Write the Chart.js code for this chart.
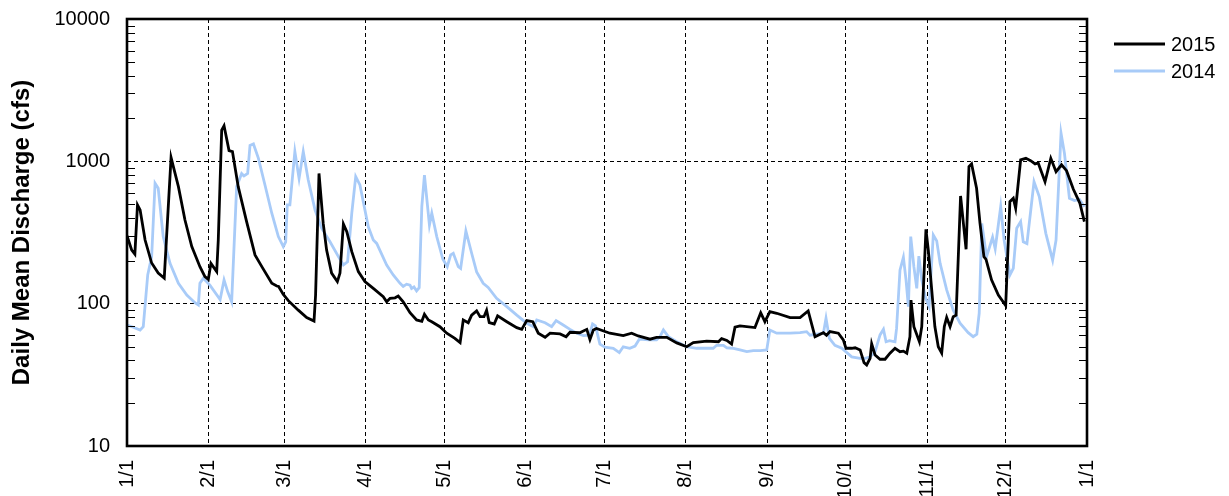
<!DOCTYPE html>
<html>
<head>
<meta charset="utf-8">
<script src="https://cdn.jsdelivr.net/npm/chart.js@4/dist/chart.umd.min.js"></script>
<style>
  html, body { margin: 0; padding: 0; background: #fff; }
  #wrap { width: 1229px; height: 496px; position: relative; }
</style>
</head>
<body>
<div id="wrap"><canvas id="c" width="1229" height="496"></canvas></div>
<script>
// Month boundaries (day of year on a 366-day axis) and their labels
const monthDays = [0, 31, 60, 91, 121, 152, 182, 213, 244, 274, 305, 335, 366];
const monthLabels = ['1/1', '2/1', '3/1', '4/1', '5/1', '6/1', '7/1', '8/1', '9/1', '10/1', '11/1', '12/1', '1/1'];
const yDecades = [10, 100, 1000, 10000];

// 2015 daily mean discharge (cfs)
const days2015 = [0,1.8,3,4,5,6.9,9.4,11.9,14.2,16.8,19.6,22.1,24.7,27.8,29.7,31,32,34.2,34.8,36.1,37,38.9,40.2,42.4,45.6,48.8,51.4,55.2,57.1,57.8,59.6,61.5,65.3,68.5,71.3,71.9,73.2,74.8,76.1,78,80.2,81.2,82.5,83.8,85.7,88.2,90.7,93.9,97.7,99,100.3,102.2,103.4,105.3,107.9,110.4,112.4,113.4,114.9,116.2,119.3,121.9,125,127,128.2,130.1,131.4,133.3,134.6,136.1,137.1,138.1,140,141.3,144.8,148.6,150.5,152.4,154.7,156.8,159.4,161.3,165.1,167.4,168.9,172.6,175.3,176.5,177.8,179,184.1,189.2,192.4,194.9,199.4,201.9,205.8,209.6,213.4,215.9,221,225.5,226.7,228.7,230.5,231.8,233.7,239.4,241.6,243.2,245.1,247.7,252.8,256.6,259.7,262.3,265.5,266.7,268,271.2,273.1,274.1,276.3,277.6,279.5,281,282,283.3,283.9,285.2,287.1,289,290.9,292.8,294.7,296,297.3,298.5,298.9,300,302.1,303,304.6,305.5,306.8,308,309.3,310.6,311.6,312.5,313.8,315,316.1,317.8,319.9,321,322,323.9,325.2,326.7,327.5,329.6,332.2,335,336.6,337.9,338.8,340.7,342.7,344.5,346.2,347.4,350,352.2,354.2,356.3,358.2,360.8,363.3,365];
const flow2015 = [300,238,223,494,455,280,193,164,151,1063,664,387,252,182,155,148,192,168,280,1655,1776,1190,1170,664,377,220,182,139,133,132,116,105,90,80,75.5,115,822,368,238,164,143,164,363,320,232,168,143,128,112,103,109,110,113,103,86.4,76.8,75.2,84.2,76.8,74.7,68.9,62,57.1,53.2,76.8,73.5,83,89,81,81,90,73.5,72,82,74.7,67.8,66,76,74.7,62,58.1,62,61.3,58.6,63,62.5,66,56,65.3,67,62,59.6,62,59.3,56.3,58,58,53,49.8,53.2,54.6,54,56.8,55.2,52,68.3,69.8,67.9,86.4,74.7,87.8,85.6,79.7,79.7,88.8,58.6,62.6,60,63.6,62,55.6,48.6,48.6,49,47.3,38.5,37.1,41.3,52.3,43.6,40.7,40.7,44.9,48.6,46,46.4,44.9,58.6,106,68.9,54,68.9,333,238,125,69,49.8,45,69,80,69,81,83,571,241,918,959,647,368,214,205,147,115,97,521,550,468,1023,1050,1010,959,975,719,1050,846,946,860,636,507,377];

// 2014 daily mean discharge (cfs)
const days2014 = [0,2.4,5,6.2,7.9,9.4,10.7,11.9,13.8,16.4,19.6,22.8,25.9,27.2,27.8,29.1,31.6,35.5,37,38.4,39.9,41.8,43.7,44.6,46,46.9,48.2,50.1,52.6,55.2,57.7,59.6,60.5,61.1,62.1,64,65.6,67.2,69.1,71.7,74.2,77.4,80.6,82.5,84.1,85.7,87.2,88.8,92,93.9,95.2,99,101.5,104.1,105.3,106.6,107.9,108.5,109.4,110.4,111.4,112.4,113.4,115.3,116.2,118.1,120.4,122.1,123.4,124.4,126.3,127.2,129.2,131.4,133.3,135.8,137.7,140.9,144.8,148.6,152.4,154.9,156.2,159.4,161.9,163.6,166.3,168.9,171.5,174,176.3,177.5,178.6,180.3,182.2,185.4,187.7,189.2,191.7,193.7,195.3,198.8,201.9,203.2,204.5,206.4,209.6,213.4,217.2,220.4,223.5,224.8,227.4,228.7,231.2,233.7,236.3,238.8,241.4,243.9,245.1,247.7,252.8,256.6,259.1,260.4,265.5,266.5,267.8,269.9,272.5,276.3,279.5,281.4,283.3,285.2,287.1,288.4,289.4,290.7,292.8,293.4,294.7,296,297,297.9,298.8,300,301.1,301.9,303,304.5,305.8,307.4,308.7,310,312.5,315,317.6,320.7,322.6,324,324.9,325.9,327.7,330,331,333.1,334.4,336.6,337.9,339.2,340.7,341.7,343.1,345.8,347.8,350.3,352.9,354.2,356.1,357.4,359.3,361.2,363.1,365];
const flow2014 = [70.8,68.3,65.3,68.9,159,214,702,647,296,192,139,115,101.6,98,139,151,135,107,147,121,103,664,822,790,822,1294,1325,1050,682,432,296,252,272,494,494,1170,758,1170,740,455,339,272,214,187,197,432,781,682,347,280,265,187,159,139,132,137,135,128,131,123,129.5,480,800,357,432,296,206,182,220,226,182,177,324,226,167,139,130,109,95.3,83,72.9,68.9,76.8,73.5,68.9,76,70.8,66,62,59.6,60,72,69.8,52,49.5,48.6,45.3,49.8,48.6,50.4,56.3,55.6,55.6,58.6,65.3,58.6,54,49.8,48.6,48.6,48.6,51,51,49,48.6,47.3,46,46.8,46.8,47.3,65.3,62,62,62.5,63.6,60,62,79,57,51,48.6,42.3,41.3,41.3,42.3,46,60.3,66,54,55,54,67,172,212,147,95.3,296,182,128,216,147,109,95.3,304,276,192,125,90,73,62.6,58.6,61,85.6,366,214,293,243,480,280,159,177,339,377,272,264,719,565,312,202,280,1577,1140,550,530,540,480];

const toPoints = (xs, ys) => xs.map((d, i) => ({ x: d, y: ys[i] }));

const FONT = "'Liberation Sans', Arial, sans-serif";

// Plot frame, inward minor ticks on both vertical axes, and the series key
const framePlugin = {
  id: 'frame',
  afterDraw(chart) {
    const { ctx, chartArea: a } = chart;
    const y = chart.scales.y;
    ctx.save();
    ctx.strokeStyle = '#000';
    ctx.lineWidth = 1.2;
    ctx.beginPath();
    y.ticks.forEach(t => {
      if (yDecades.includes(t.value)) return;
      const py = Math.round(y.getPixelForValue(t.value)) + 0.5;
      ctx.moveTo(a.left, py); ctx.lineTo(a.left + 8, py);
      ctx.moveTo(a.right, py); ctx.lineTo(a.right - 8, py);
    });
    ctx.stroke();
    ctx.lineWidth = 2.6;
    ctx.strokeRect(a.left, a.top, a.right - a.left, a.bottom - a.top);

    // key
    ctx.font = '20px ' + FONT;
    ctx.textBaseline = 'middle';
    ctx.textAlign = 'left';
    chart.data.datasets.forEach((ds, i) => {
      const ly = 44 + 27 * i;
      ctx.strokeStyle = ds.borderColor;
      ctx.lineWidth = 3;
      ctx.beginPath();
      ctx.moveTo(1114, ly); ctx.lineTo(1165, ly);
      ctx.stroke();
      ctx.fillStyle = '#000';
      ctx.fillText(ds.label, 1171, ly + 1);
    });
    ctx.restore();
  }
};

new Chart(document.getElementById('c'), {
  type: 'line',
  data: {
    datasets: [
      { label: '2015', data: toPoints(days2015, flow2015), borderColor: '#000000', borderWidth: 2.8, pointRadius: 0, tension: 0 },
      { label: '2014', data: toPoints(days2014, flow2014), borderColor: '#a8cbf8', borderWidth: 2.8, pointRadius: 0, tension: 0 }
    ]
  },
  options: {
    responsive: false,
    animation: false,
    events: [],
    layout: { padding: { top: 19, right: 142, bottom: 0, left: 0 } },
    plugins: { legend: { display: false }, tooltip: { enabled: false } },
    scales: {
      x: {
        type: 'linear',
        min: 0,
        max: 366,
        afterBuildTicks: s => { s.ticks = monthDays.map(v => ({ value: v })); },
        afterFit: s => { s.height = 50; },
        grid: {
          drawTicks: false,
          lineWidth: 1,
          color: c => (c.tick && (c.tick.value === 0 || c.tick.value === 366)) ? 'rgba(0,0,0,0)' : '#000'
        },
        border: { display: false, dash: [4, 3] },
        ticks: {
          autoSkip: false,
          minRotation: 90,
          maxRotation: 90,
          padding: 14,
          color: '#000',
          font: { family: FONT, size: 20 },
          callback: v => monthLabels[monthDays.indexOf(v)]
        }
      },
      y: {
        type: 'logarithmic',
        min: 10,
        max: 10000,
        afterBuildTicks: s => {
          const vals = [];
          for (let i = 0; i < yDecades.length - 1; i++) {
            for (let m = 1; m < 10; m++) vals.push(yDecades[i] * m);
          }
          vals.push(yDecades[yDecades.length - 1]);
          s.ticks = vals.map(v => ({ value: v }));
        },
        afterFit: s => { s.width = 127; s.paddingTop = 0; s.paddingBottom = 0; },
        grid: {
          drawTicks: false,
          lineWidth: 1,
          color: c => (c.tick && (c.tick.value === 100 || c.tick.value === 1000)) ? '#000' : 'rgba(0,0,0,0)'
        },
        border: { display: false, dash: [4, 3] },
        ticks: {
          autoSkip: false,
          padding: 17,
          color: '#000',
          font: { family: FONT, size: 20 },
          callback: v => yDecades.includes(v) ? String(v) : ''
        },
        title: {
          display: true,
          text: 'Daily Mean Discharge (cfs)',
          color: '#000',
          font: { family: FONT, size: 24, weight: 'bold' },
          padding: { top: 8, bottom: 0 }
        }
      }
    }
  },
  plugins: [framePlugin]
});
</script>
</body>
</html>
